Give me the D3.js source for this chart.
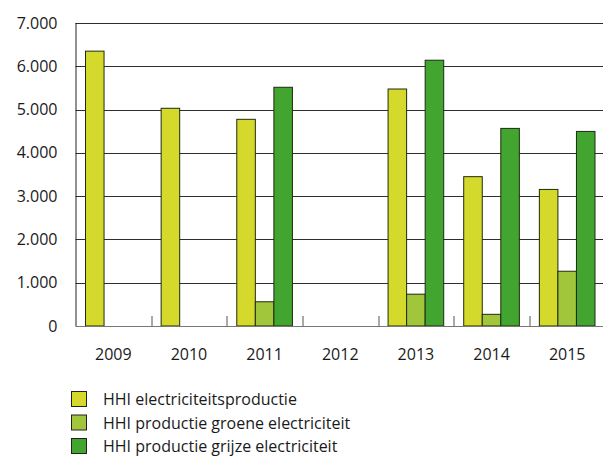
<!DOCTYPE html>
<html>
<head>
<meta charset="utf-8">
<script src="https://cdn.jsdelivr.net/npm/d3@7"></script>
<style>
  body { margin: 0; background: #fff; }
  text { font-family: "Open Sans", "DejaVu Sans", sans-serif; fill: #1a1a1a; }
</style>
</head>
<body>
<div id="chart"></div>
<script>
// Gegevens
const jaren = ["2009", "2010", "2011", "2012", "2013", "2014", "2015"];
const reeksen = ["HHI electriciteitsproductie", "HHI productie groene electriciteit", "HHI productie grijze electriciteit"];
const hhiTotaal = [6350, 5030, 4775, null, 5475, 3450, 3155];
const hhiGroen  = [null, null, 560, null, 735, 270, 1265];
const hhiGrijs  = [null, null, 5515, null, 6140, 4565, 4495];
const yTicks = [0, 1000, 2000, 3000, 4000, 5000, 6000, 7000];
const kleuren = ["#d5d92b", "#a1c53b", "#42a52f"];

const width = 603, height = 458;
const margin = { top: 23, right: -2, bottom: 132, left: 75.5 };
const w = width - margin.left - margin.right;
const h = height - margin.top - margin.bottom;

const svg = d3.select("#chart").append("svg")
  .attr("width", width).attr("height", height);
const g = svg.append("g").attr("transform", `translate(${margin.left},${margin.top})`);

const x = d3.scaleBand().domain(jaren).range([0, w]);
const xSub = d3.scaleBand().domain(reeksen).range([10, x.bandwidth() - 10]);
const y = d3.scaleLinear().domain([0, 7000]).range([h, 0]);

// Rasterlijnen
g.selectAll(".grid").data(yTicks.filter(d => d > 0)).enter().append("line")
  .attr("x1", 0).attr("x2", w)
  .attr("y1", d => Math.round(y(d)) + 0.5).attr("y2", d => Math.round(y(d)) + 0.5)
  .attr("stroke", "#2e2e2e").attr("stroke-width", 1);

// Y-as
const yAxis = g.append("g")
  .call(d3.axisLeft(y).tickValues(yTicks).tickSize(0).tickPadding(18)
    .tickFormat(d => d3.format(",")(d).replace(/,/g, ".")));
yAxis.select(".domain").remove();
yAxis.selectAll("text").style("font-size", "16px");
g.append("line").attr("x1", 0.5).attr("x2", 0.5).attr("y1", 0).attr("y2", h)
  .attr("stroke", "#222");

// Staven
const data = jaren.map((j, i) => ({ jaar: j, waarden: [hhiTotaal[i], hhiGroen[i], hhiGrijs[i]] }));
const groep = g.selectAll(".jaar").data(data).enter().append("g")
  .attr("transform", d => `translate(${x(d.jaar)},0)`);
groep.selectAll("rect")
  .data(d => d.waarden.map((v, k) => ({ v, k })).filter(e => e.v != null))
  .enter().append("rect")
  .attr("x", d => xSub(reeksen[d.k]))
  .attr("width", xSub.bandwidth())
  .attr("y", d => y(d.v))
  .attr("height", d => h - y(d.v))
  .attr("fill", d => kleuren[d.k])
  .attr("stroke", "#1f2a10").attr("stroke-width", 1);

// X-as
const xAxis = g.append("g").attr("transform", `translate(0,${h})`)
  .call(d3.axisBottom(x).tickSize(0).tickPadding(23));
xAxis.select(".domain").remove();
xAxis.selectAll("text").style("font-size", "16px");
g.append("line").attr("x1", 0).attr("x2", w).attr("y1", h + 0.5).attr("y2", h + 0.5)
  .attr("stroke", "#777");
g.selectAll(".sep").data(jaren.slice(1)).enter().append("line")
  .attr("x1", d => Math.round(x(d)) + 0.5).attr("x2", d => Math.round(x(d)) + 0.5)
  .attr("y1", h).attr("y2", h - 10)
  .attr("stroke", "#555");

// Legenda
const legenda = svg.append("g").attr("transform", "translate(71,391)");
const item = legenda.selectAll("g").data(reeksen).enter().append("g")
  .attr("transform", (d, i) => `translate(0,${i * 23.5})`);
item.append("rect").attr("x", 0.5).attr("y", 0.5).attr("width", 15).attr("height", 15)
  .attr("fill", (d, i) => kleuren[i]).attr("stroke", "#222");
item.append("text").attr("x", 32).attr("y", 14).style("font-size", "16px").text(d => d);
</script>
</body>
</html>
